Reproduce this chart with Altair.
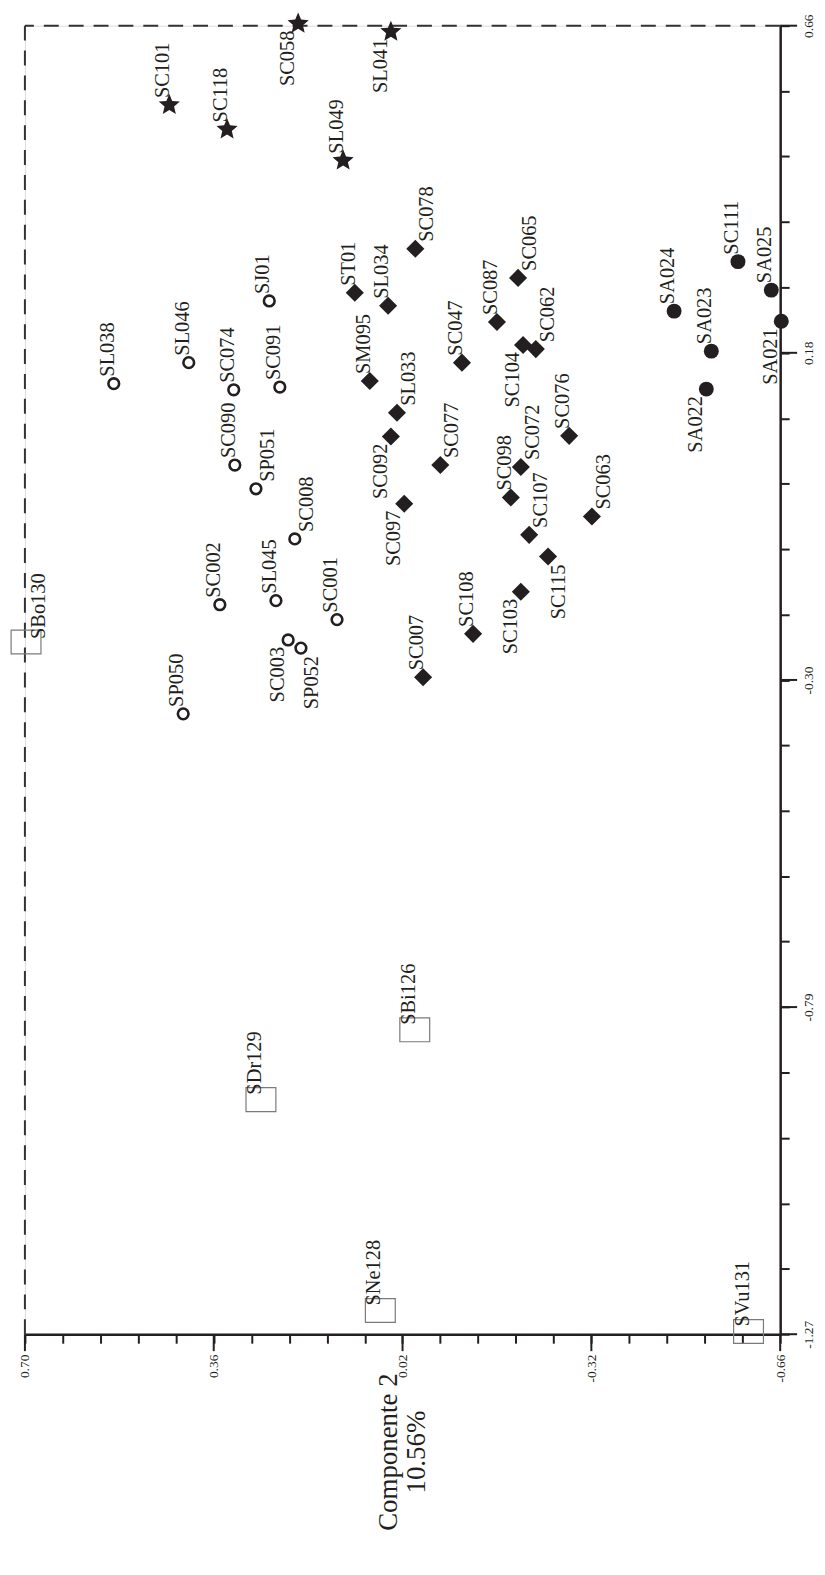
import json
import altair as alt
import pandas as pd

# ---------------- data ----------------
names = ["SC058", "SL041", "SC101", "SC118", "SL049",
         "SL038", "SL046", "SJ01", "SC074", "SC091", "SC090", "SP051", "SC008",
         "SC002", "SL045", "SC001", "SC003", "SP052", "SP050",
         "SC078", "ST01", "SL034", "SC065", "SC087", "SC104", "SC062", "SC047",
         "SM095", "SL033", "SC092", "SC076", "SC077", "SC072", "SC098", "SC097",
         "SC063", "SC107", "SC115", "SC103", "SC108", "SC007",
         "SA021", "SA025", "SC111", "SA024", "SA023", "SA022",
         "SBo130", "SBi126", "SDr129", "SNe128", "SVu131"]

comp2 = [0.208, 0.041, 0.440, 0.336, 0.127,
         0.540, 0.405, 0.260, 0.324, 0.241, 0.322, 0.284, 0.214,
         0.349, 0.248, 0.138, 0.226, 0.203, 0.415,
         -0.003, 0.106, 0.046, -0.188, -0.150, -0.197, -0.220, -0.087,
         0.079, 0.030, 0.041, -0.280, -0.048, -0.193, -0.175, 0.017,
         -0.321, -0.208, -0.242, -0.193, -0.107, -0.017,
         -0.662, -0.644, -0.584, -0.469, -0.536, -0.527,
         0.698, -0.002, 0.275, 0.060, -0.603]

comp1 = [0.663, 0.651, 0.543, 0.507, 0.461,
         0.132, 0.163, 0.254, 0.123, 0.127, 0.012, -0.023, -0.097,
         -0.194, -0.188, -0.216, -0.246, -0.258, -0.355,
         0.331, 0.266, 0.247, 0.288, 0.223, 0.189, 0.183, 0.163,
         0.136, 0.089, 0.054, 0.055, 0.012, 0.009, -0.036, -0.045,
         -0.064, -0.091, -0.123, -0.175, -0.237, -0.301,
         0.224, 0.270, 0.312, 0.239, 0.180, 0.124,
         -0.249, -0.821, -0.924, -1.235, -1.266]

grupo = (["estrella"] * 5 + ["abierto"] * 14 + ["rombo"] * 22 +
         ["lleno"] * 6 + ["cuadro"] * 5)

# label placement groups (default: above the symbol)
label_below = ["SC058", "SL041", "SC003", "SC092", "SC104", "SC097",
               "SC103", "SA021", "SA022"]
label_below_right = ["SP052", "SC115"]
label_right = ["SP051", "SC008", "SC078", "SC065", "SC062", "SL033",
               "SC077", "SC072", "SC107", "SC063"]
label_square = ["SBi126", "SDr129", "SNe128", "SVu131"]
label_square_right = ["SBo130"]

# axes
x_domain = [-0.66, 0.70]
y_domain = [-1.27, 0.66]
x_major = [0.70, 0.36, 0.02, -0.32, -0.66]
x_major_labels = ["0.70", "0.36", "0.02", "-0.32", "-0.66"]
y_major = [0.66, 0.1775, -0.305, -0.7875, -1.27]
y_major_labels = ["0.66", "0.18", "-0.30", "-0.79", "-1.27"]
minor_per_major = 5
x_title = ["Componente 2", "10.56%"]

W, H = 759, 1315
MINOR_LEN, MAJOR_LEN = 9, 17

STAR = ("M0,-1L0.2645,-0.3641L0.9511,-0.309L0.428,0.1391L0.5878,0.809"
        "L0,0.45L-0.5878,0.809L-0.428,0.1391L-0.9511,-0.309L-0.2645,-0.3641Z")
RECT = "M-1.25,-1L1.25,-1L1.25,1L-1.25,1Z"


def ticks(major):
    out = []
    for a, b in zip(major[:-1], major[1:]):
        for k in range(minor_per_major):
            out.append(round(a + (b - a) * k / minor_per_major, 5))
    out.append(major[-1])
    return out


x_ticks = ticks(x_major)
y_ticks = ticks(y_major)


def label_expr(major, labels):
    m = json.dumps(major)
    l = json.dumps(labels)
    return f"indexof({m}, datum.value) >= 0 ? {l}[indexof({m}, datum.value)] : ''"


pos = []
for n in names:
    if n in label_below:
        pos.append("below")
    elif n in label_below_right:
        pos.append("below_right")
    elif n in label_right:
        pos.append("right")
    elif n in label_square:
        pos.append("square")
    elif n in label_square_right:
        pos.append("square_right")
    else:
        pos.append("above")

df = pd.DataFrame({"name": names, "c2": comp2, "c1": comp1, "grupo": grupo, "pos": pos})

INK = "#231f20"
FONT = "Liberation Serif"

x_axis = alt.Axis(
    orient="bottom", values=x_ticks, labelExpr=label_expr(x_major, x_major_labels),
    grid=False, domainColor=INK, domainWidth=2.5, tickColor=INK, tickWidth=2,
    tickSize=MINOR_LEN,
    labelAngle=270, labelAlign="right", labelBaseline="middle", labelPadding=11,
    labelFont=FONT, labelFontSize=13.5, labelColor=INK, labelFlush=False, labelOverlap=False,
    title=x_title, titleFont=FONT, titleFontSize=27, titleFontWeight="normal",
    titleColor=INK, titleAngle=270, titleAlign="center", titleBaseline="middle",
    titleLineHeight=29, titleX=365, titleY=118,
)
y_axis = alt.Axis(
    orient="right", values=y_ticks, labelExpr=label_expr(y_major, y_major_labels),
    grid=False, domainColor=INK, domainWidth=2.5, tickColor=INK, tickWidth=2,
    tickSize=MINOR_LEN,
    labelAngle=270, labelAlign="center", labelBaseline="top", labelPadding=12,
    labelFont=FONT, labelFontSize=13.5, labelColor=INK, labelFlush=False, labelOverlap=False,
    title=None,
)

x_enc = alt.X("c2:Q", scale=alt.Scale(domain=x_domain, reverse=True, nice=False, zero=False), axis=x_axis)
y_enc = alt.Y("c1:Q", scale=alt.Scale(domain=y_domain, nice=False, zero=False), axis=y_axis)

base = alt.Chart(df)

# dashed frame on the left / top
frame_left = alt.Chart(pd.DataFrame({"c2": [x_domain[1]]})).mark_rule(
    color="#333333", strokeWidth=2, strokeDash=[15, 10]).encode(x=x_enc)
frame_top = alt.Chart(pd.DataFrame({"c1": [y_domain[1]]})).mark_rule(
    color="#333333", strokeWidth=2, strokeDash=[15, 10]).encode(y=y_enc)

# longer major ticks
x_major_ticks = alt.Chart(pd.DataFrame({"c2": x_major})).mark_rule(
    color=INK, strokeWidth=2).encode(x=x_enc, y=alt.value(H), y2=alt.value(H + MAJOR_LEN))
y_major_ticks = alt.Chart(pd.DataFrame({"c1": y_major})).mark_rule(
    color=INK, strokeWidth=2).encode(y=y_enc, x=alt.value(W), x2=alt.value(W + MAJOR_LEN))

stars = base.transform_filter(alt.datum.grupo == "estrella").mark_point(
    shape=STAR, filled=True, size=500, color=INK, opacity=1).encode(x=x_enc, y=y_enc)
open_c = base.transform_filter(alt.datum.grupo == "abierto").mark_point(
    shape="circle", filled=False, size=115, color=INK, strokeWidth=2.6, opacity=1).encode(x=x_enc, y=y_enc)
diamonds = base.transform_filter(alt.datum.grupo == "rombo").mark_point(
    shape="diamond", filled=True, size=330, color=INK, opacity=1).encode(x=x_enc, y=y_enc)
full_c = base.transform_filter(alt.datum.grupo == "lleno").mark_point(
    shape="circle", filled=True, size=225, color=INK, opacity=1).encode(x=x_enc, y=y_enc)
squares = base.transform_filter(alt.datum.grupo == "cuadro").mark_point(
    shape=RECT, filled=False, size=576,
    color="#7a7a7a", strokeWidth=1.2, opacity=1).encode(x=x_enc, y=y_enc)

label_styles = {
    "above": dict(align="left", dx=7, dy=0),
    "right": dict(align="left", dx=7, dy=18),
    "below": dict(align="right", dx=-7, dy=-4),
    "below_right": dict(align="right", dx=-8, dy=17),
    "square": dict(align="left", dx=5, dy=0),
    "square_right": dict(align="left", dx=3, dy=19),
}
labels = []
for p, st in label_styles.items():
    labels.append(
        base.transform_filter(alt.datum.pos == p).mark_text(
            angle=270, baseline="alphabetic", font=FONT, fontSize=20.5, color=INK, **st
        ).encode(x=x_enc, y=y_enc, text="name:N")
    )

chart = alt.layer(frame_left, frame_top, x_major_ticks, y_major_ticks,
                  squares, open_c, diamonds, full_c, stars, *labels).properties(
    width=W, height=H,
    padding={"left": 0, "top": 0, "right": 2, "bottom": 0},
).configure_view(stroke=None).configure(background="white")

chart.save("out.html", embed_options={"renderer": "svg", "actions": False})
